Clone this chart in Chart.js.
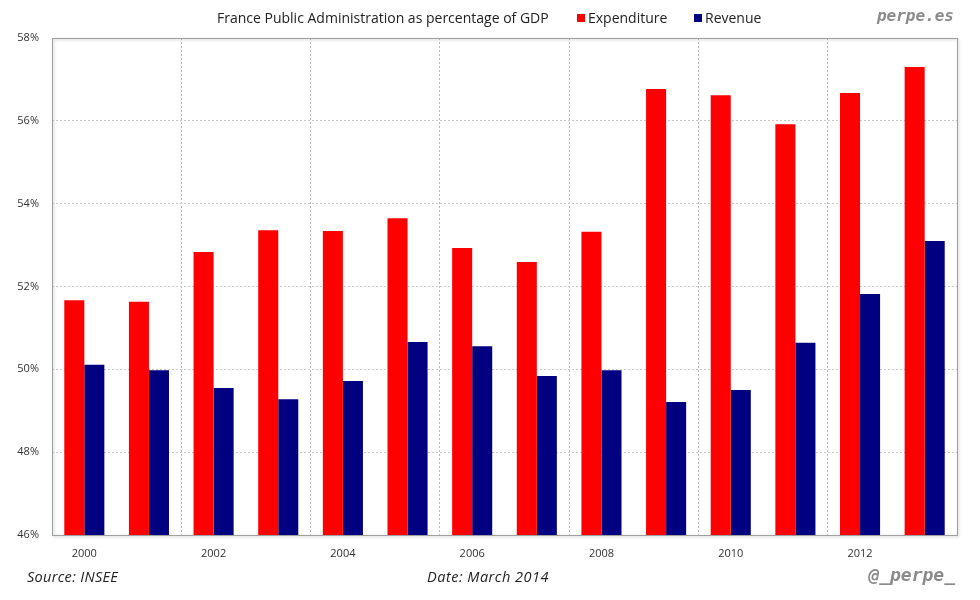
<!DOCTYPE html>
<html>
<head>
<meta charset="utf-8">
<script src="https://cdn.jsdelivr.net/npm/chart.js@4.4.1/dist/chart.umd.min.js"></script>
<style>
  html, body { margin: 0; padding: 0; background: #fff; }
  #wrap { position: relative; width: 980px; height: 600px; font-family: "Open Sans", sans-serif; }
  canvas { position: absolute; left: 0; top: 0; }
  .txt { position: absolute; white-space: nowrap; color: #222; }
  #title { left: 217px; top: 8px; font-size: 14px; }
  .leg { position: absolute; top: 8px; font-size: 14px; white-space: nowrap; color: #222; }
  .leg i { display: inline-block; width: 8px; height: 8px; margin-right: 3px; vertical-align: 1px; }
  #site { right: 26px; top: 6px; font-family: "DejaVu Sans Mono", monospace; font-weight: bold; font-style: italic; font-size: 16px; color: #8a8a8a; }
  #src { left: 27px; top: 567px; font-style: italic; font-size: 14.5px; letter-spacing: 0.3px; }
  #date { left: 427px; top: 567px; font-style: italic; font-size: 14.5px; letter-spacing: 0.5px; }
  #tw { right: 25px; top: 564px; font-family: "DejaVu Sans Mono", monospace; font-weight: bold; font-style: italic; font-size: 18px; color: #8a8a8a; }
</style>
</head>
<body>
<div id="wrap">
  <canvas id="c" width="980" height="600"></canvas>
  <div class="txt" id="title">France Public Administration as percentage of GDP</div>
  <div class="leg" id="leg1" style="left:577px"></div>
  <div class="leg" id="leg2" style="left:694px"></div>
  <div class="txt" id="site">perpe.es</div>
  <div class="txt" id="src">Source: INSEE</div>
  <div class="txt" id="date">Date: March 2014</div>
  <div class="txt" id="tw">@_perpe_</div>
</div>
<script>
const years = ["2000","2001","2002","2003","2004","2005","2006","2007","2008","2009","2010","2011","2012","2013"];
const expenditure = [51.67, 51.63, 52.83, 53.36, 53.34, 53.65, 52.93, 52.59, 53.32, 56.77, 56.62, 55.92, 56.67, 57.30];
const revenue = [50.11, 49.98, 49.55, 49.28, 49.72, 50.66, 50.56, 49.84, 49.98, 49.21, 49.50, 50.64, 51.82, 53.10];
const seriesNames = ["Expenditure", "Revenue"];
const seriesColors = ["#ff0000", "#000080"];
const yTicks = [46, 48, 50, 52, 54, 56, 58];

document.getElementById('leg1').innerHTML = '<i style="background:' + seriesColors[0] + '"></i>' + seriesNames[0];
document.getElementById('leg2').innerHTML = '<i style="background:' + seriesColors[1] + '"></i>' + seriesNames[1];

const frame = {
  id: 'frame',
  afterDraw(chart) {
    const a = chart.chartArea, ctx = chart.ctx;
    ctx.save();
    ctx.strokeStyle = '#a0a0a0';
    ctx.lineWidth = 1;
    ctx.shadowColor = 'rgba(0,0,0,0.25)';
    ctx.shadowBlur = 3;
    ctx.shadowOffsetX = 1;
    ctx.shadowOffsetY = 1;
    ctx.strokeRect(Math.round(a.left) + 0.5, Math.round(a.top) + 0.5, Math.round(a.right - a.left), Math.round(a.bottom - a.top));
    ctx.restore();
  }
};

new Chart(document.getElementById('c'), {
  type: 'bar',
  data: {
    labels: years,
    datasets: [
      { label: seriesNames[0], data: expenditure, backgroundColor: seriesColors[0], borderWidth: 0 },
      { label: seriesNames[1], data: revenue, backgroundColor: seriesColors[1], borderWidth: 0 }
    ]
  },
  options: {
    responsive: false,
    animation: false,
    devicePixelRatio: 1,
    layout: { padding: { top: 38, right: 23, left: 0, bottom: 0 } },
    plugins: { legend: { display: false }, title: { display: false }, tooltip: { enabled: false } },
    datasets: { bar: { categoryPercentage: 0.62, barPercentage: 1.0 } },
    scales: {
      x: {
        offset: true,
        grid: {
          offset: true,
          drawTicks: false,
          color: (ctx) => (ctx.index > 0 && ctx.index % 2 === 0 && ctx.index < years.length) ? '#b8b8b8' : 'rgba(0,0,0,0)',
          lineWidth: 1
        },
        border: { display: false, dash: [2, 2] },
        ticks: {
          autoSkip: false,
          maxRotation: 0,
          padding: 12,
          color: '#333',
          font: { family: 'Open Sans', size: 11 },
          callback: function (v, i) { return i % 2 === 0 ? years[i] : ''; }
        },
        afterFit: (s) => { s.height = 65; }
      },
      y: {
        min: 46,
        max: 58,
        afterBuildTicks: (s) => { s.ticks = yTicks.map(v => ({ value: v })); },
        grid: {
          drawTicks: false,
          color: (ctx) => (ctx.tick && (ctx.tick.value === 46 || ctx.tick.value === 58)) ? 'rgba(0,0,0,0)' : '#c8c8c8'
        },
        border: { display: false, dash: [2, 2] },
        ticks: {
          padding: 13,
          color: '#333',
          font: { family: 'Open Sans', size: 11 },
          callback: (v) => v + '%'
        },
        afterFit: (s) => { s.width = 52; }
      }
    }
  },
  plugins: [frame]
});
</script>
</body>
</html>
